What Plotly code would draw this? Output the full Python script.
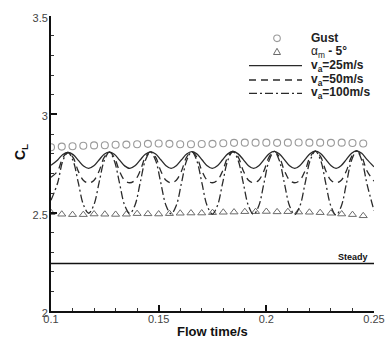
import plotly.graph_objects as go

# ---- data ----
gust_t = [0.100, 0.105, 0.110, 0.115, 0.120, 0.125, 0.130, 0.135, 0.140, 0.145,
          0.150, 0.155, 0.160, 0.165, 0.170, 0.175, 0.180, 0.185, 0.190, 0.195,
          0.200, 0.205, 0.210, 0.215, 0.220, 0.225, 0.230, 0.235, 0.240, 0.245]
gust_cl = [2.833, 2.836, 2.838, 2.840, 2.842, 2.843, 2.845, 2.846, 2.848, 2.850,
           2.852, 2.850, 2.848, 2.848, 2.849, 2.850, 2.853, 2.855, 2.856, 2.856,
           2.856, 2.855, 2.856, 2.857, 2.856, 2.856, 2.855, 2.856, 2.854, 2.852]

alpha_t = gust_t
alpha_cl = [2.500, 2.492, 2.490, 2.490, 2.493, 2.492, 2.491, 2.492, 2.495, 2.494,
            2.493, 2.495, 2.497, 2.498, 2.498, 2.500, 2.502, 2.503, 2.505, 2.505,
            2.506, 2.504, 2.505, 2.503, 2.502, 2.500, 2.497, 2.493, 2.490, 2.484]

line_t = [0.1000, 0.1031, 0.1055,
          0.1079, 0.1103, 0.1127, 0.1151, 0.1175, 0.1199, 0.1223, 0.1247,
          0.1271, 0.1294, 0.1318, 0.1342, 0.1366, 0.1390, 0.1414, 0.1438,
          0.1462, 0.1486, 0.1510, 0.1534, 0.1558, 0.1582, 0.1606, 0.1630,
          0.1654, 0.1677, 0.1701, 0.1725, 0.1749, 0.1773, 0.1797, 0.1821,
          0.1845, 0.1869, 0.1893, 0.1917, 0.1941, 0.1965, 0.1989, 0.2013,
          0.2037, 0.2060, 0.2084, 0.2108, 0.2132, 0.2156, 0.2180, 0.2204,
          0.2228, 0.2252, 0.2276, 0.2300, 0.2324, 0.2348, 0.2372, 0.2396,
          0.2420, 0.2443, 0.2467, 0.2500]

v25_cl = [2.741, 2.768, 2.796,
          2.806, 2.795, 2.766, 2.737, 2.725, 2.738, 2.768, 2.797,
          2.808, 2.797, 2.768, 2.738, 2.725, 2.738, 2.768, 2.797,
          2.809, 2.798, 2.769, 2.739, 2.725, 2.739, 2.769, 2.798,
          2.810, 2.799, 2.769, 2.739, 2.725, 2.739, 2.769, 2.799,
          2.811, 2.799, 2.770, 2.739, 2.725, 2.739, 2.770, 2.800,
          2.812, 2.800, 2.770, 2.739, 2.725, 2.740, 2.771, 2.801,
          2.813, 2.801, 2.771, 2.740, 2.725, 2.740, 2.771, 2.802,
          2.814, 2.802, 2.771, 2.733]

v50_cl = [2.680, 2.712, 2.780,
          2.806, 2.780, 2.710, 2.664, 2.651, 2.664, 2.711, 2.781,
          2.808, 2.781, 2.711, 2.664, 2.652, 2.665, 2.712, 2.782,
          2.809, 2.782, 2.712, 2.665, 2.652, 2.665, 2.712, 2.783,
          2.810, 2.783, 2.712, 2.665, 2.652, 2.665, 2.712, 2.783,
          2.811, 2.784, 2.713, 2.665, 2.652, 2.665, 2.713, 2.784,
          2.812, 2.784, 2.713, 2.665, 2.652, 2.665, 2.713, 2.785,
          2.813, 2.785, 2.713, 2.665, 2.652, 2.665, 2.713, 2.785,
          2.814, 2.785, 2.713, 2.660]

v100_cl = [2.563, 2.652, 2.764,
           2.806, 2.763, 2.651, 2.539, 2.497, 2.539, 2.651, 2.764,
           2.808, 2.764, 2.651, 2.538, 2.496, 2.538, 2.651, 2.765,
           2.809, 2.765, 2.651, 2.537, 2.494, 2.537, 2.651, 2.765,
           2.810, 2.765, 2.650, 2.536, 2.493, 2.536, 2.650, 2.766,
           2.811, 2.766, 2.650, 2.535, 2.491, 2.535, 2.650, 2.766,
           2.812, 2.766, 2.649, 2.534, 2.490, 2.534, 2.649, 2.767,
           2.813, 2.767, 2.649, 2.533, 2.488, 2.533, 2.649, 2.767,
           2.814, 2.767, 2.648, 2.510]

steady_t = [0.1, 0.25]
steady_cl = [2.241, 2.241]

series_names = ["<b>Gust</b>", "α<sub>m</sub><b> - 5°</b>",
                "<b>v<sub>a</sub>=25m/s</b>", "<b>v<sub>a</sub>=50m/s</b>",
                "<b>v<sub>a</sub>=100m/s</b>"]

x_ticks = [0.1, 0.15, 0.2, 0.25]
x_ticklabels = ["0.1", "0.15", "0.2", "0.25"]
y_ticks = [2, 2.5, 3, 3.5]
y_ticklabels = ["2", "2.5", "3", "3.5"]

FONT = "Liberation Sans, Arial, sans-serif"
LINE = "#2a2a2a"
CIRC = "#9a9a9a"
TRI = "#6a6a6a"
DASH50 = "7px,5px"
DASH100 = "8px,3px,2px,3px"

fig = go.Figure()
fig.add_trace(go.Scatter(x=gust_t, y=gust_cl, mode="markers", name=series_names[0],
                         marker=dict(symbol="circle-open", size=7, color=CIRC,
                                     line=dict(width=1.1, color=CIRC))))
fig.add_trace(go.Scatter(x=alpha_t, y=alpha_cl, mode="markers", name=series_names[1],
                         marker=dict(symbol="triangle-up-open", size=7, color=TRI,
                                     line=dict(width=1, color=TRI))))
fig.add_trace(go.Scatter(x=line_t, y=v25_cl, mode="lines", name=series_names[2],
                         line=dict(color=LINE, width=1.3, shape="spline")))
fig.add_trace(go.Scatter(x=line_t, y=v50_cl, mode="lines", name=series_names[3],
                         line=dict(color=LINE, width=1.3, dash=DASH50, shape="spline")))
fig.add_trace(go.Scatter(x=line_t, y=v100_cl, mode="lines", name=series_names[4],
                         line=dict(color=LINE, width=1.3, dash=DASH100, shape="spline")))
fig.add_trace(go.Scatter(x=steady_t, y=steady_cl, mode="lines", showlegend=False,
                         line=dict(color="#111111", width=1.5)))

fig.add_annotation(x=0.2402, y=2.275, text="<b>Steady</b>", showarrow=False,
                   xanchor="center", yanchor="middle",
                   font=dict(family=FONT, size=9, color="#111111"))

# ---- compact legend drawn in paper coordinates ----
W, H = 390, 338
ML, MR, MT, MB = 51, 16, 16, 27
PW, PH = W - ML - MR, H - MT - MB


def px(xp):
    return (xp - ML) / PW


def py(yp):
    return (H - MB - yp) / PH


rows = [38.3, 51.7, 65.7, 80.0, 93.3]
sym_x = 277
line_x0, line_x1 = 249, 302
text_x = 309

fig.add_shape(type="circle", xref="paper", yref="paper", xsizemode="pixel",
              ysizemode="pixel", xanchor=px(sym_x), yanchor=py(rows[0]),
              x0=-3.3, x1=3.3, y0=-3.3, y1=3.3, line=dict(color=CIRC, width=1.1))
fig.add_shape(type="path", xref="paper", yref="paper", xsizemode="pixel",
              ysizemode="pixel", xanchor=px(sym_x), yanchor=py(rows[1]),
              path="M -3.5,-2.8 L 3.5,-2.8 L 0,3.4 Z", line=dict(color=TRI, width=1))
for r, d in zip(rows[2:], ["solid", DASH50, DASH100]):
    fig.add_shape(type="line", xref="paper", yref="paper",
                  x0=px(line_x0), x1=px(line_x1), y0=py(r), y1=py(r),
                  line=dict(color=LINE, width=1.3, dash=d))
for r, name in zip(rows, series_names):
    fig.add_annotation(xref="paper", yref="paper", x=px(text_x), y=py(r),
                       xanchor="left", yanchor="middle", text=name, showarrow=False,
                       font=dict(family=FONT, size=12, color="#222222"))

# axis titles
fig.add_annotation(xref="paper", yref="paper", x=px(21), y=py(152), text="<b>C<sub>L</sub></b>",
                   textangle=-90, showarrow=False, xanchor="center", yanchor="middle",
                   font=dict(family=FONT, size=14, color="#111111"))
fig.add_annotation(xref="paper", yref="paper", x=0.5, y=py(331), text="<b>Flow time/s</b>",
                   showarrow=False, xanchor="center", yanchor="middle",
                   font=dict(family=FONT, size=13, color="#111111"))

fig.update_layout(
    width=W, height=H,
    margin=dict(l=ML, r=MR, t=MT, b=MB, autoexpand=False),
    paper_bgcolor="white", plot_bgcolor="white",
    font=dict(family=FONT, size=11, color="#222222"),
    showlegend=False,
    xaxis=dict(range=[0.1, 0.25], tickvals=x_ticks, ticktext=x_ticklabels,
               showgrid=False, zeroline=False, showline=True, linecolor="#111111",
               linewidth=1.6, ticks="inside", ticklen=6, tickwidth=1.5,
               tickcolor="#111111", mirror=False, automargin=False,
               ticklabelstandoff=-3,
               tickfont=dict(family=FONT, size=11, color="#444444"),
               minor=dict(dtick=0.01, tick0=0.1, ticks="inside", ticklen=3,
                          tickwidth=1, tickcolor="#333333", showgrid=False)),
    yaxis=dict(range=[2, 3.5], tickvals=y_ticks, ticktext=y_ticklabels,
               showgrid=False, zeroline=False, showline=True, linecolor="#111111",
               linewidth=1.8, ticks="inside", ticklen=6, tickwidth=1.5,
               tickcolor="#111111", mirror=False, automargin=False,
               ticklabelshift=2, ticklabelstandoff=-1,
               tickfont=dict(family=FONT, size=11, color="#444444"),
               minor=dict(dtick=0.1, tick0=2, ticks="inside", ticklen=3,
                          tickwidth=1, tickcolor="#333333", showgrid=False)),
)

fig.write_html("out.html")
